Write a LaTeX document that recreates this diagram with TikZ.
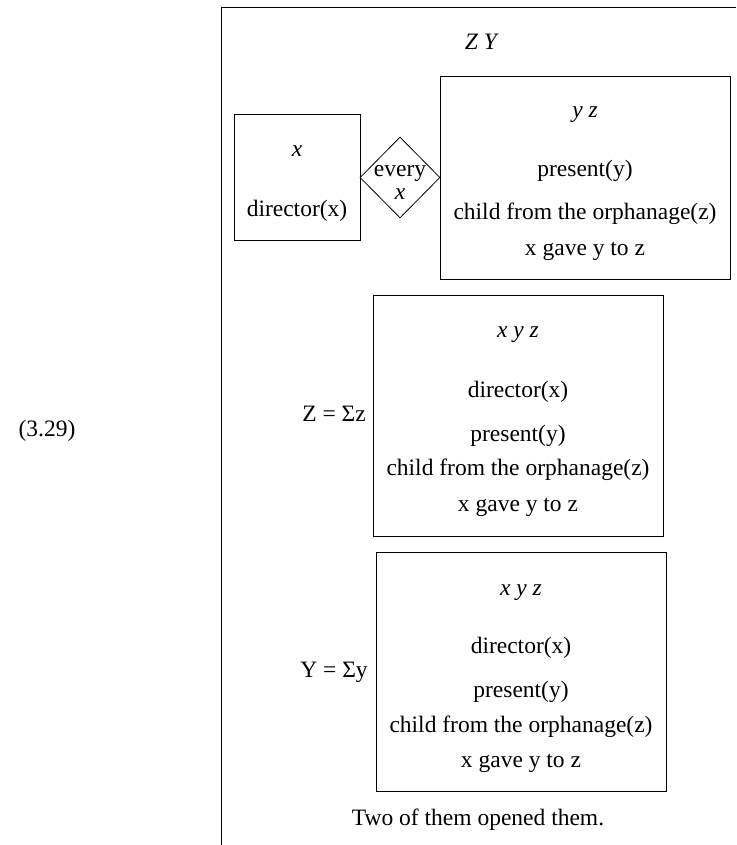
\documentclass[tikz,border=0pt]{standalone}
\usepackage{fontspec}
\setmainfont{Liberation Serif}
\usetikzlibrary{shapes.geometric}
\begin{document}
\begin{tikzpicture}[x=1pt,y=-1pt,
  every node/.style={font=\fontsize{23.5}{28}\selectfont, inner sep=0pt},
  txt/.style={anchor=base},
  box/.style={draw, line width=0.8pt, rectangle, inner sep=0pt},
  dia/.style={draw, line width=0.8pt, diamond, inner sep=0pt}]
\useasboundingbox (0,0) rectangle (736,845);
% outer frame (open right and bottom)
\coordinate (ftr) at (736,7);
\coordinate (ftl) at (221,7);
\coordinate (fbl) at (221,845);
\draw[line width=0.8pt] (ftr) -- (ftl) -- (fbl);
\node[txt] (num) at (47,436) {(3.29)};
\node[txt] (zy) at (482,50) {\textit{Z Y}};
% left box
\node[box, minimum width=126pt, minimum height=126pt] (bx) at (297,177) {};
\node[txt] (bxv) at (297,157) {\textit{x}};
\node[txt] (bxc) at (297,216) {director(x)};
% diamond
\node[dia, minimum width=80pt, minimum height=81pt] (dm) at (400,177.5) {};
\node[txt] (dm1) at (400,176.5) {every};
\node[txt] (dm2) at (400,200) {\textit{x}};
% right box
\node[box, minimum width=290pt, minimum height=203pt] (byz) at (585,177.5) {};
\node[txt] (byzv) at (585,118) {\textit{y z}};
\node[txt] (byz1) at (585,177) {present(y)};
\node[txt] (byz2) at (585,219) {child from the orphanage(z)};
\node[txt] (byz3) at (585,255) {x gave y to z};
% second box
\node[txt] (lz) at (334,421) {Z = Σz};
\node[box, minimum width=290pt, minimum height=241pt] (b2) at (518,415.5) {};
\node[txt] (b2v) at (518,337) {\textit{x y z}};
\node[txt] (b21) at (518,397) {director(x)};
\node[txt] (b22) at (518,441) {present(y)};
\node[txt] (b23) at (518,475) {child from the orphanage(z)};
\node[txt] (b24) at (518,511) {x gave y to z};
% third box
\node[txt] (ly) at (334,677) {Y = Σy};
\node[box, minimum width=290pt, minimum height=239pt] (b3) at (521,671.5) {};
\node[txt] (b3v) at (521,595) {\textit{x y z}};
\node[txt] (b31) at (521,653) {director(x)};
\node[txt] (b32) at (521,697) {present(y)};
\node[txt] (b33) at (521,732) {child from the orphanage(z)};
\node[txt] (b34) at (521,767) {x gave y to z};
\node[txt] (two) at (478,825) {Two of them opened them.};
\end{tikzpicture}
\end{document}
